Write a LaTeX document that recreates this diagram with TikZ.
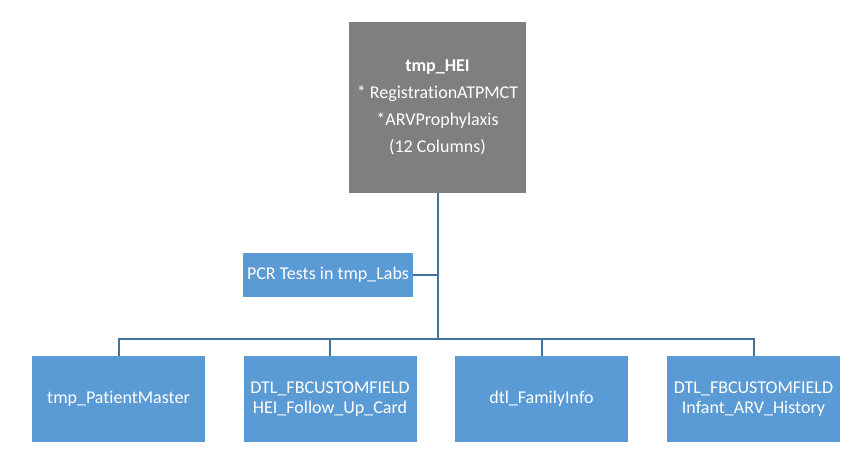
\documentclass[tikz,border=0pt]{standalone}
\usepackage{fontspec}
\setmainfont{Carlito}[Ligatures=NoCommon]
\usepackage{tikz}
\definecolor{boxblue}{HTML}{5B9BD5}
\definecolor{linkblue}{HTML}{41719C}
\definecolor{headgray}{HTML}{7F7F7F}

\begin{document}
\begin{tikzpicture}[
  x=1pt, y=-1pt,
  every node/.style={text=white,align=center,inner sep=0pt,font=\fontsize{18}{19.5}\selectfont},
  tablebox/.style={fill=boxblue,minimum width=173pt,minimum height=86pt},
  link/.style={draw=linkblue,line width=2pt}
]
\useasboundingbox (0,0) rectangle (859,457);
\node[fill=headgray,minimum width=177pt,minimum height=171pt] (hei) at (437.5,107.5)
  {\textbf{tmp\_HEI}\\[7.5pt]* RegistrationATPMCT\\[7.5pt]*ARVProphylaxis\\[7.5pt](12 Columns)};
\node[tablebox,minimum width=170pt,minimum height=44pt] (labs) at (328,275) {PCR Tests in tmp\_Labs};
\node[tablebox] (patient) at (118.5,399) {tmp\_PatientMaster};
\node[tablebox] (followup) at (330,399) {DTL\_FBCUSTOMFIELD\\HEI\_Follow\_Up\_Card};
\node[tablebox] (family) at (541.5,399) {dtl\_FamilyInfo};
\node[tablebox] (arv) at (753.5,399) {DTL\_FBCUSTOMFIELD\\Infant\_ARV\_History};
\coordinate (bus) at (437.5,339);
% connectors
\draw[link] (hei.south) -- (bus);
\draw[link] (labs.east) -- (labs.east -| hei.south);
\draw[link] (patient.north) |- (bus) -| (arv.north);
\draw[link] (followup.north) -- (followup.north |- bus);
\draw[link] (family.north) -- (family.north |- bus);
\end{tikzpicture}
\end{document}
